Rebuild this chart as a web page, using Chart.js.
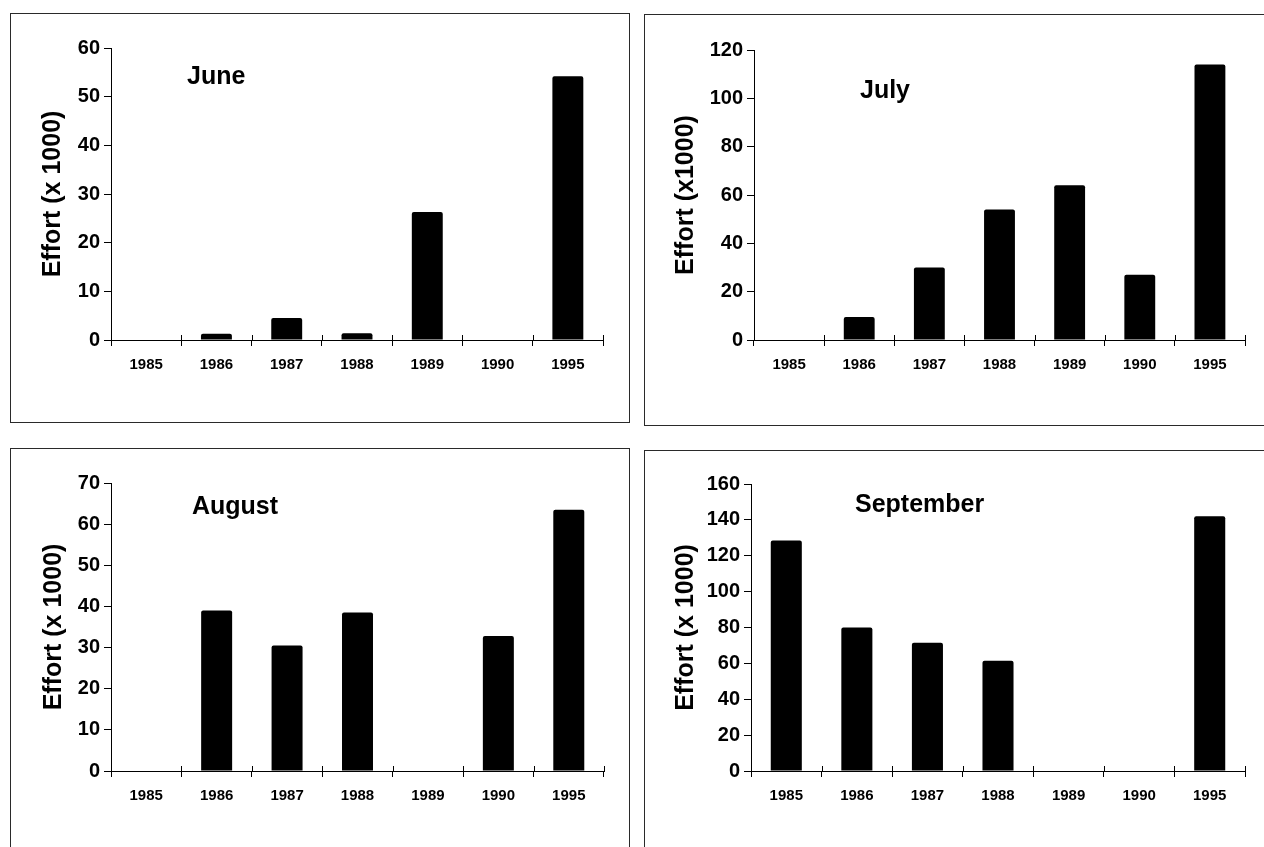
<!DOCTYPE html>
<html>
<head>
<meta charset="utf-8">
<title>Effort by month</title>
<script src="https://cdn.jsdelivr.net/npm/chart.js@4.4.0/dist/chart.umd.min.js"></script>
<style>
  body { margin: 0; background: #fff; width: 1264px; height: 847px; overflow: hidden; position: relative; }
  .panel { position: absolute; border: 1px solid #2a2a2a; box-sizing: border-box; background: #fff; }
  .panel canvas { position: absolute; left: 0; top: 0; }
</style>
</head>
<body>
<div class="panel" id="p0"><canvas id="c0"></canvas></div>
<div class="panel" id="p1"><canvas id="c1"></canvas></div>
<div class="panel" id="p2"><canvas id="c2"></canvas></div>
<div class="panel" id="p3"><canvas id="c3"></canvas></div>
<script>
// data
const years = ['1985', '1986', '1987', '1988', '1989', '1990', '1995'];
const juneEffort = [0, 1.3, 4.5, 1.4, 26.3, 0, 54.2];
const julyEffort = [0, 9.5, 30, 54, 64, 27, 114];
const augustEffort = [0, 39, 30.5, 38.5, 0, 32.8, 63.5];
const septemberEffort = [128.5, 80, 71.5, 61.5, 0, 0, 142];

const months = ['June', 'July', 'August', 'September'];
const yTitles = ['Effort (x 1000)', 'Effort (x1000)', 'Effort (x 1000)', 'Effort (x 1000)'];
const yMax = [60, 120, 70, 160];
const yStep = [10, 20, 10, 20];
const series = [juneEffort, julyEffort, augustEffort, septemberEffort];

// page layout: panel box [x, y, w, h], plot area [left, right, top, bottom]
const panels = [
    { box: [10, 13, 620, 410], area: [111, 603, 48, 340], titleX: 53, label: [187, 77] },
    { box: [644, 14, 640, 412], area: [754, 1245, 50, 340], titleX: 686, label: [860, 91] },
    { box: [10, 448, 620, 420], area: [111, 604, 483, 771], titleX: 54, label: [192, 507] },
    { box: [644, 450, 640, 420], area: [751, 1245, 484, 771], titleX: 686, label: [855, 505] }
];

const sans = "'Liberation Sans', Arial, sans-serif";

// month name drawn inside the plot
const monthLabel = {
    id: 'monthLabel',
    afterDatasetsDraw(chart, args, opts) {
        const ctx = chart.ctx;
        ctx.save();
        ctx.font = 'bold 25px ' + sans;
        ctx.fillStyle = '#000';
        ctx.textAlign = 'left';
        ctx.textBaseline = 'middle';
        ctx.fillText(opts.text, opts.x, opts.y);
        ctx.restore();
    }
};

// short marks above the x axis so the category ticks cross it
const crossTicks = {
    id: 'crossTicks',
    afterDraw(chart) {
        const xs = chart.scales.x;
        const n = xs.ticks.length;
        const ctx = chart.ctx;
        ctx.save();
        ctx.strokeStyle = '#000';
        ctx.lineWidth = 1;
        ctx.beginPath();
        for (let k = 1; k <= n; k++) {
            const px = Math.round(xs.left + k * xs.width / n) + 0.5;
            ctx.moveTo(px, xs.top - 5);
            ctx.lineTo(px, xs.top);
        }
        ctx.stroke();
        ctx.restore();
    }
};

panels.forEach((p, i) => {
    const div = document.getElementById('p' + i);
    const canvas = document.getElementById('c' + i);
    const [bx, by, bw, bh] = p.box;
    div.style.left = bx + 'px';
    div.style.top = by + 'px';
    div.style.width = bw + 'px';
    div.style.height = bh + 'px';

    const cx = bx + 1, cy = by + 1;
    const W = bw - 2, H = bh - 2;
    canvas.width = W;
    canvas.height = H;
    canvas.style.width = W + 'px';
    canvas.style.height = H + 'px';

    const [aL, aR, aT, aB] = p.area;
    const titleLine = 25 * 1.2;

    new Chart(canvas, {
        type: 'bar',
        data: {
            labels: years,
            datasets: [{
                data: series[i],
                backgroundColor: '#000',
                borderWidth: 0,
                borderRadius: 2,
                barPercentage: 0.44,
                categoryPercentage: 1
            }]
        },
        options: {
            responsive: false,
            animation: false,
            devicePixelRatio: 1,
            layout: {
                padding: { left: 0, top: aT - cy, right: (cx + W) - aR, bottom: 0 }
            },
            plugins: {
                legend: { display: false },
                tooltip: { enabled: false },
                monthLabel: { text: months[i], x: p.label[0] - cx, y: p.label[1] - cy }
            },
            scales: {
                x: {
                    afterFit: s => { s.height = (cy + H) - aB; },
                    grid: { drawOnChartArea: false, tickLength: 6, color: '#000', offset: true },
                    border: { display: true, color: '#000', width: 1 },
                    ticks: {
                        color: '#000',
                        padding: 10,
                        maxRotation: 0,
                        autoSkip: false,
                        font: { family: sans, size: 15, weight: 'bold' }
                    }
                },
                y: {
                    min: 0,
                    max: yMax[i],
                    afterFit: s => { s.width = aL - cx; },
                    grid: { drawOnChartArea: false, tickLength: 7, color: '#000' },
                    border: { display: true, color: '#000', width: 1 },
                    ticks: {
                        stepSize: yStep[i],
                        color: '#000',
                        padding: 4,
                        font: { family: sans, size: 20, weight: 'bold' }
                    },
                    title: {
                        display: true,
                        text: yTitles[i],
                        color: '#000',
                        padding: { top: (p.titleX - cx) - titleLine / 2, bottom: 0 },
                        font: { family: sans, size: 25, weight: 'bold' }
                    }
                }
            }
        },
        plugins: [monthLabel, crossTicks]
    });
});
</script>
</body>
</html>
